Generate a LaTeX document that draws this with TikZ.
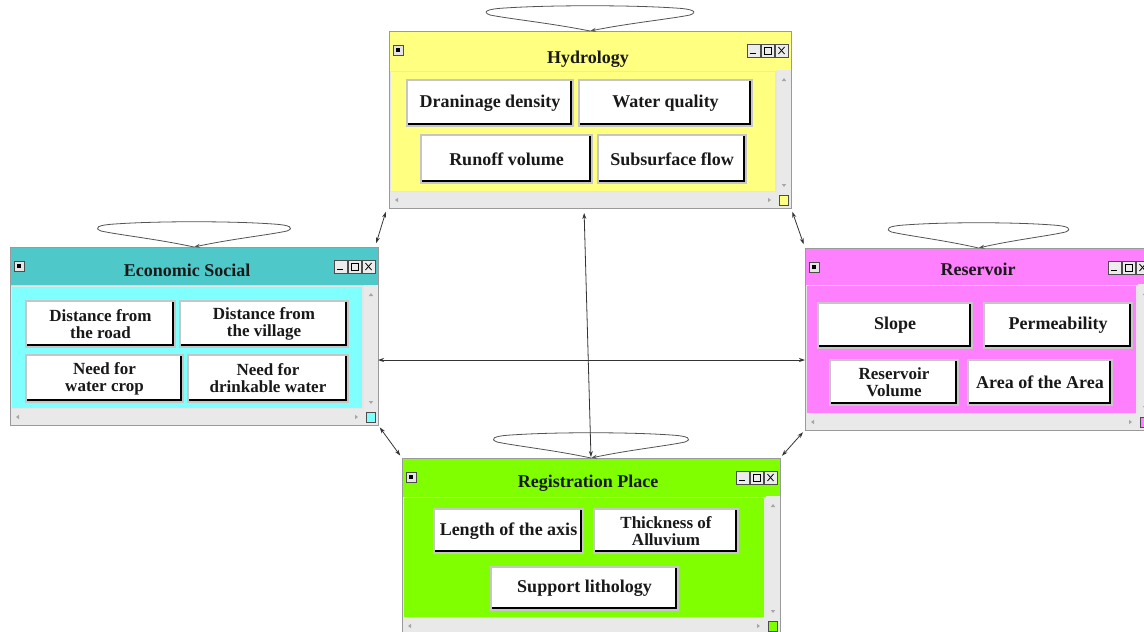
\documentclass[tikz,border=0pt]{standalone}
\usepackage{fontspec}
\setmainfont{Liberation Serif}
\usetikzlibrary{arrows.meta,calc,fit}
\definecolor{hydC}{HTML}{FFFF80}
\definecolor{ecoT}{HTML}{4EC8C8}
\definecolor{ecoB}{HTML}{80FFFF}
\definecolor{resC}{HTML}{FF80FF}
\definecolor{regC}{HTML}{80FF00}
\definecolor{sbar}{HTML}{E9E9E9}
\definecolor{frameC}{HTML}{9A9A9A}
\newcommand\uifont{\fontsize{18}{18}\selectfont\bfseries}
\newcommand\twofont{\fontsize{17}{17}\selectfont\bfseries}
\tikzset{
  btn/.style={fill=white, draw=gray!45, line width=1.6pt, inner sep=0pt, outer sep=0pt,
    align=center, font=\uifont, text=black!90,
    path picture={\draw[black, line width=7pt]
      (path picture bounding box.south west) -- (path picture bounding box.south east)
      -- (path picture bounding box.north east);}},
  btntwo/.style={btn, font=\twofont},
  wintitle/.style={font=\uifont, anchor=base, inner sep=0pt, text=black!90},
  conn/.style={draw=black!80, line width=0.8pt, {Stealth[length=6pt,width=4pt]}-{Stealth[length=6pt,width=4pt]}},
  lensline/.style={draw=gray!65!black, line width=0.8pt, -{Stealth[length=6pt,width=4pt]}},
  pics/selfloop/.style={code={
    \draw[lensline] (0,0) .. controls (-40,-8) and (-80,-12) .. (-100,-16)
      .. controls (-108,-19) and (-104,-22) .. (-85,-23)
      .. controls (-40,-26) and (40,-26) .. (85,-23)
      .. controls (104,-22) and (108,-19) .. (100,-16)
      .. controls (80,-12) and (40,-8) .. (0,0);}}
}
% #1 name #2 x1 #3 y1 #4 x2 #5 y2 #6 title bottom #7 title colour #8 body colour
\newcommand\winbox[8]{%
  \node[fit={(#2,#3) (#4,#5)}, inner sep=0pt, outer sep=0pt] (#1) {};
  \begin{scope}
    \clip (#2,#3) rectangle (#4,#5);
    \fill[#7] (#2,#3) rectangle (#4,#6);
    \fill[#8] (#2,#6) rectangle (#4-14,#5-16);
    \draw[white!80!gray, line width=1.4pt] (#2+1,#6+1.5) rectangle (#4-15,#5-16.7);
    \fill[sbar] (#4-14,#6) rectangle (#4,#5);
    \fill[sbar] (#2,#5-16) rectangle (#4,#5);
    \fill[gray!70] (#4-7,#6+8) -- ++(-2.2,3) -- ++(4.4,0) -- cycle;
    \fill[gray!70] (#4-7,#5-21) -- ++(-2.2,-3) -- ++(4.4,0) -- cycle;
    \fill[gray!70] (#2+6,#5-8) -- ++(3,-2.2) -- ++(0,4.4) -- cycle;
    \fill[gray!70] (#4-20,#5-8) -- ++(-3,-2.2) -- ++(0,4.4) -- cycle;
    \filldraw[fill=#8, draw=gray!60!black, line width=0.6pt] (#4-12,#5-13) rectangle (#4-3,#5-3);
    \filldraw[fill=gray!20, draw=gray!60!black, line width=0.6pt] (#2+4,#3+14) rectangle (#2+14,#3+24);
    \fill[black] (#2+7,#3+17) rectangle (#2+11,#3+21);
    \foreach \k in {0,1,2} {
      \filldraw[fill=gray!15, draw=gray!60!black, line width=0.6pt]
        (#4-44+\k*14,#3+13) rectangle (#4-31+\k*14,#3+26);}
    \draw[line width=1.3pt] (#4-41,#3+22.5) -- (#4-35,#3+22.5);
    \draw[line width=0.8pt] (#4-26.5,#3+16) rectangle (#4-19.5,#3+23.5);
    \draw[line width=0.8pt] (#4-12.5,#3+16) -- (#4-6.5,#3+23) (#4-12.5,#3+23) -- (#4-6.5,#3+16);
  \end{scope}
  \draw[frameC, line width=0.7pt] (#2,#3) rectangle (#4,#5);
}
\begin{document}
\begin{tikzpicture}[x=1pt,y=-1pt]
\clip (0,0) rectangle (1144,632);
\fill[white] (0,0) rectangle (1144,632);

% windows
\winbox{hyd}{389}{31}{791}{208}{70}{hydC}{hydC}
\winbox{eco}{10}{247}{378}{425}{285}{ecoT}{ecoB}
\winbox{res}{805}{248}{1152}{430}{284}{resC}{resC}
\winbox{reg}{402}{458}{780}{634}{496}{regC}{regC}

% titles
\node[wintitle] (hydT) at (588,63) {Hydrology};
\node[wintitle] (ecoT) at (187,276) {Economic Social};
\node[wintitle] (resT) at (978,275) {Reservoir};
\node[wintitle] (regT) at (588,487) {Registration Place};

% Hydrology buttons
\node[btn, minimum width=166pt, minimum height=46pt] (hb1) at (490,103) {Draninage density};
\node[btn, minimum width=173pt, minimum height=46pt] (hb2) at (665.5,103) {Water quality};
\node[btn, minimum width=171pt, minimum height=48pt] (hb3) at (506.5,159) {Runoff volume};
\node[btn, minimum width=148pt, minimum height=48pt] (hb4) at (672,159) {Subsurface flow};

% Economic Social buttons
\node[btntwo, minimum width=149pt, minimum height=46pt] (eb1) at (100.5,324) {Distance from\\the road};
\node[btntwo, minimum width=168pt, minimum height=46pt] (eb2) at (264,324) {Distance from\\the village};
\node[btntwo, minimum width=157pt, minimum height=47pt] (eb3) at (104.5,378.5) {Need for\\water crop};
\node[btntwo, minimum width=160pt, minimum height=47pt] (eb4) at (268,378.5) {Need for\\drinkable water};

% Reservoir buttons
\node[btn, minimum width=154pt, minimum height=45pt] (rb1) at (895,325.5) {Slope};
\node[btn, minimum width=148pt, minimum height=45pt] (rb2) at (1058,325.5) {Permeability};
\node[btntwo, minimum width=128pt, minimum height=45pt] (rb3) at (894,382.5) {Reservoir\\Volume};
\node[btn, minimum width=144pt, minimum height=45pt] (rb4) at (1040,382.5) {Area of the Area};

% Registration Place buttons
\node[btn, minimum width=149pt, minimum height=44pt] (gb1) at (508.5,531) {Length of the axis};
\node[btntwo, minimum width=144pt, minimum height=44pt] (gb2) at (666,531) {Thickness of\\Alluvium};
\node[btn, minimum width=187pt, minimum height=43pt] (gb3) at (584.5,588.5) {Support lithology};

% self loops
\pic at (hyd.north) {selfloop};
\pic[xscale=0.93] at (eco.north) {selfloop};
\pic[xscale=0.87] at (res.north) {selfloop};
\pic[xscale=0.94] at (reg.north) {selfloop};

% connectors
\draw[conn, shorten <=4pt, shorten >=4pt] ([xshift=-2pt]hyd.south west) -- ([xshift=-3pt]eco.north east);
\draw[conn, shorten <=4pt, shorten >=4pt] (hyd.south east) -- (res.north west);
\draw[conn, shorten <=3pt, shorten >=3pt] (eco.south east) -- (reg.north west);
\draw[conn, shorten <=3pt, shorten >=3pt] (res.south west) -- (reg.north east);
\draw[conn] ([yshift=-24pt]eco.east) -- ([yshift=-24pt]eco.east -| res.west);
\draw[conn, shorten <=5pt, shorten >=1pt] ([xshift=-6pt]hyd.south) -- (reg.north);
\end{tikzpicture}
\end{document}
